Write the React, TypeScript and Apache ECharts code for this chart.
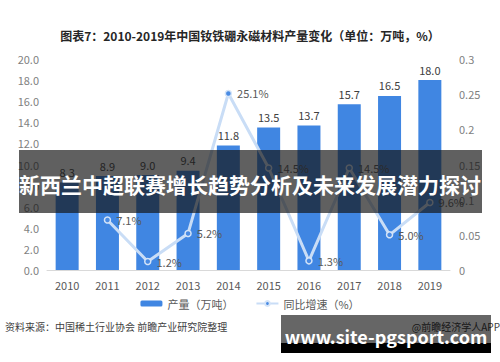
import React, { useEffect, useRef } from "react";
import * as echarts from "echarts";

const years = ["2010", "2011", "2012", "2013", "2014", "2015", "2016", "2017", "2018", "2019"];
const output = [8.3, 8.9, 9.0, 9.4, 11.8, 13.5, 13.7, 15.7, 16.5, 18.0];
const growth: (number | string)[] = ["-", 0.071, 0.012, 0.052, 0.251, 0.145, 0.013, 0.145, 0.05, 0.096];

const FONT = "'Noto Sans CJK SC', 'Noto Sans', sans-serif";

export default function App() {
  const ref = useRef<HTMLDivElement>(null);
  useEffect(() => {
    if (!ref.current) return;
    const chart = echarts.init(ref.current, null, { renderer: "svg" });
    chart.setOption({
      animation: false,
      backgroundColor: "#ffffff",
      textStyle: { fontFamily: FONT },
      title: {
        text: "图表7：2010-2019年中国钕铁硼永磁材料产量变化（单位：万吨，%）",
        left: "center",
        top: 24,
        textStyle: { fontSize: 12, fontWeight: "bold", color: "#262626", fontFamily: FONT },
      },
      legend: {
        bottom: 48,
        left: "center",
        itemWidth: 22,
        itemHeight: 6,
        itemGap: 22,
        textStyle: { fontSize: 11, color: "#595959", fontFamily: FONT },
        data: ["产量（万吨）", "同比增速（%）"],
      },
      grid: { left: 47, right: 50, top: 59, bottom: 92 },
      xAxis: {
        type: "category",
        data: years,
        axisTick: { show: false },
        axisLine: { lineStyle: { color: "#d9d9d9" } },
        axisLabel: { fontSize: 11, color: "#595959", margin: 9 },
      },
      yAxis: [
        {
          type: "value",
          min: 0,
          max: 20,
          interval: 2,
          splitLine: { show: false },
          axisLine: { show: false },
          axisTick: { show: false },
          axisLabel: { fontSize: 11, color: "#7f7f7f", formatter: (v: number) => v.toFixed(1) },
        },
        {
          type: "value",
          min: 0,
          max: 0.3,
          interval: 0.05,
          splitLine: { show: false },
          axisLine: { show: false },
          axisTick: { show: false },
          axisLabel: { fontSize: 11, color: "#7f7f7f", margin: 9 },
        },
      ],
      series: [
        {
          name: "产量（万吨）",
          type: "bar",
          data: output,
          barWidth: 23,
          itemStyle: { color: "#4086e2" },
          label: {
            show: true,
            position: "top",
            fontSize: 11,
            color: "#404040",
            formatter: (p: any) => Number(p.value).toFixed(1),
          },
        },
        {
          name: "同比增速（%）",
          type: "line",
          yAxisIndex: 1,
          data: growth,
          symbol: "circle",
          symbolSize: 6,
          lineStyle: { color: "#c9ddf6", width: 3 },
          itemStyle: { color: "#4a8be3", borderColor: "#d4e4f8", borderWidth: 1.5 },
          label: {
            show: true,
            position: "right",
            fontSize: 11,
            color: "#595959",
            formatter: (p: any) => (Number(p.value) * 100).toFixed(1) + "%",
          },
        },
      ],
      graphic: [
        {
          type: "text",
          left: 5,
          top: 321,
          style: { text: "资料来源：中国稀土行业协会 前瞻产业研究院整理", fontSize: 10, fill: "#404040", fontFamily: FONT },
        },
        {
          type: "text",
          right: 0,
          top: 321,
          style: { text: "@前瞻经济学人APP", fontSize: 10, fill: "#404040", fontFamily: FONT },
        },
        {
          type: "rect",
          shape: { x: 19, y: 150, width: 463, height: 63 },
          style: { fill: "rgba(20,20,20,0.68)" },
          z: 100,
        },
        {
          type: "text",
          x: 250,
          y: 184,
          style: {
            text: "新西兰中超联赛增长趋势分析及未来发展潜力探讨",
            fontSize: 21,
            fontWeight: "bold",
            fill: "#ffffff",
            align: "center",
            verticalAlign: "middle",
            fontFamily: FONT,
          },
          z: 101,
        },
        {
          type: "rect",
          shape: { x: 281, y: 315, width: 210, height: 28 },
          style: { fill: "rgba(0,0,0,0.6)" },
          z: 100,
        },
        {
          type: "rect",
          shape: { x: 281, y: 343, width: 210, height: 10 },
          style: { fill: "#000000" },
          z: 100,
        },
        {
          type: "text",
          x: 386,
          y: 336,
          style: {
            text: "www.site-pgsport.com",
            fontSize: 18,
            fontWeight: "bold",
            fill: "#ffffff",
            align: "center",
            verticalAlign: "middle",
            fontFamily: FONT,
          },
          z: 101,
        },
      ],
    });
    return () => chart.dispose();
  }, []);
  return <div ref={ref} style={{ position: "absolute", left: 0, top: 0, width: 500, height: 362 }} />;
}
